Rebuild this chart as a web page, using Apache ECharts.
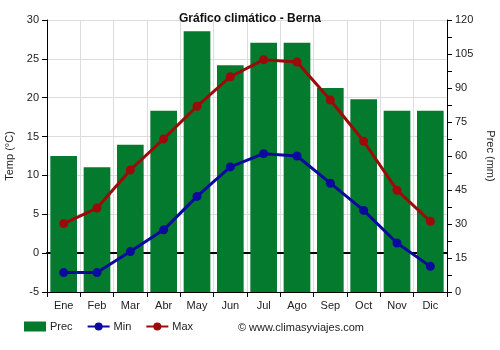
<!DOCTYPE html>
<html>
<head>
<meta charset="utf-8">
<script src="https://cdn.jsdelivr.net/npm/echarts@6/dist/echarts.min.js"></script>
<style>
  html, body { margin: 0; padding: 0; background: #fff; }
  #chart { width: 500px; height: 350px; }
</style>
</head>
<body>
<div id="chart"></div>
<script>
// Climate data for Bern: monthly precipitation (mm), min and max temperature (°C)
const months = ['Ene', 'Feb', 'Mar', 'Abr', 'May', 'Jun', 'Jul', 'Ago', 'Sep', 'Oct', 'Nov', 'Dic'];
const prec = [60, 55, 65, 80, 115, 100, 110, 110, 90, 85, 80, 80];
const tMin = [-2.5, -2.5, 0.2, 3.0, 7.3, 11.1, 12.8, 12.5, 9.0, 5.5, 1.3, -1.7];
const tMax = [3.8, 5.8, 10.7, 14.7, 18.9, 22.7, 24.9, 24.6, 19.7, 14.4, 8.1, 4.1];

const FONT = 'Liberation Sans, Arial, sans-serif';
const TXT = '#222';
const GREEN = '#047a2f';
const BLUE = '#0a0a9c';
const RED = '#9c0a0a';

const chart = echarts.init(document.getElementById('chart'), null, { renderer: 'canvas' });

chart.setOption({
  animation: false,
  textStyle: { fontFamily: FONT },
  title: {
    text: 'Gráfico climático - Berna',
    left: 'center',
    top: 8,
    textStyle: { fontFamily: FONT, fontSize: 12, fontWeight: 'bold', color: '#111' }
  },
  grid: { left: 47, right: 53, top: 20, bottom: 58, containLabel: false, outerBoundsMode: 'none' },
  legend: {
    bottom: 13,
    left: 19,
    itemGap: 14,
    itemWidth: 22,
    itemHeight: 10,
    textStyle: { fontFamily: FONT, fontSize: 11, color: TXT, padding: [0, 0, 0, -1] },
    data: [
      { name: 'Prec', icon: 'rect' },
      { name: 'Min' },
      { name: 'Max' }
    ]
  },
  graphic: [{
    type: 'text',
    right: 136,
    bottom: 17,
    style: { text: '© www.climasyviajes.com', fontFamily: FONT, fontSize: 11, fill: TXT }
  }],
  xAxis: [{
    type: 'category',
    data: months,
    axisLine: { onZero: false, lineStyle: { color: '#000', width: 1 } },
    axisTick: { show: true, length: 5, lineStyle: { color: '#000' } },
    axisLabel: { fontFamily: FONT, fontSize: 11, color: TXT, margin: 8 },
    splitLine: { show: true, lineStyle: { color: '#dcdcdc', width: 1 } }
  }, {
    // zero-degree reference line drawn underneath the bars
    type: 'category',
    data: months,
    position: 'bottom',
    axisLine: { onZero: true, onZeroAxisIndex: 0, lineStyle: { color: '#000', width: 2 } },
    axisTick: { show: false },
    axisLabel: { show: false },
    splitLine: { show: false }
  }],
  yAxis: [{
    type: 'value',
    min: -5,
    max: 30,
    interval: 5,
    name: 'Temp (°C)',
    nameLocation: 'middle',
    nameRotate: 90,
    nameGap: 31,
    nameTextStyle: { fontFamily: FONT, fontSize: 11, color: TXT },
    axisLine: { show: true, lineStyle: { color: '#000' } },
    axisTick: { show: true, length: 5, lineStyle: { color: '#000' } },
    axisLabel: { fontFamily: FONT, fontSize: 11, color: TXT, margin: 8 },
    splitLine: { show: true, lineStyle: { color: '#dcdcdc', width: 1 } }
  }, {
    type: 'value',
    min: 0,
    max: 120,
    interval: 15,
    name: 'Prec (mm)',
    nameLocation: 'middle',
    nameRotate: -90,
    nameGap: 27,
    nameTextStyle: { fontFamily: FONT, fontSize: 11, color: TXT },
    axisLine: { show: true, lineStyle: { color: '#000' } },
    axisTick: { show: true, length: 5, lineStyle: { color: '#000' } },
    minorTick: { show: true, splitNumber: 2, length: 5, lineStyle: { color: '#000' } },
    axisLabel: { fontFamily: FONT, fontSize: 11, color: TXT, margin: 8 },
    splitLine: { show: false }
  }],
  series: [{
    name: 'Prec',
    type: 'bar',
    yAxisIndex: 1,
    data: prec,
    barWidth: '80%',
    itemStyle: { color: GREEN },
    z: 2
  }, {
    name: 'Min',
    type: 'line',
    yAxisIndex: 0,
    data: tMin,
    symbol: 'circle',
    symbolSize: 9,
    lineStyle: { color: BLUE, width: 3 },
    itemStyle: { color: BLUE },
    z: 4
  }, {
    name: 'Max',
    type: 'line',
    yAxisIndex: 0,
    data: tMax,
    symbol: 'circle',
    symbolSize: 9,
    lineStyle: { color: RED, width: 3 },
    itemStyle: { color: RED },
    z: 5
  }]
});
</script>
</body>
</html>
